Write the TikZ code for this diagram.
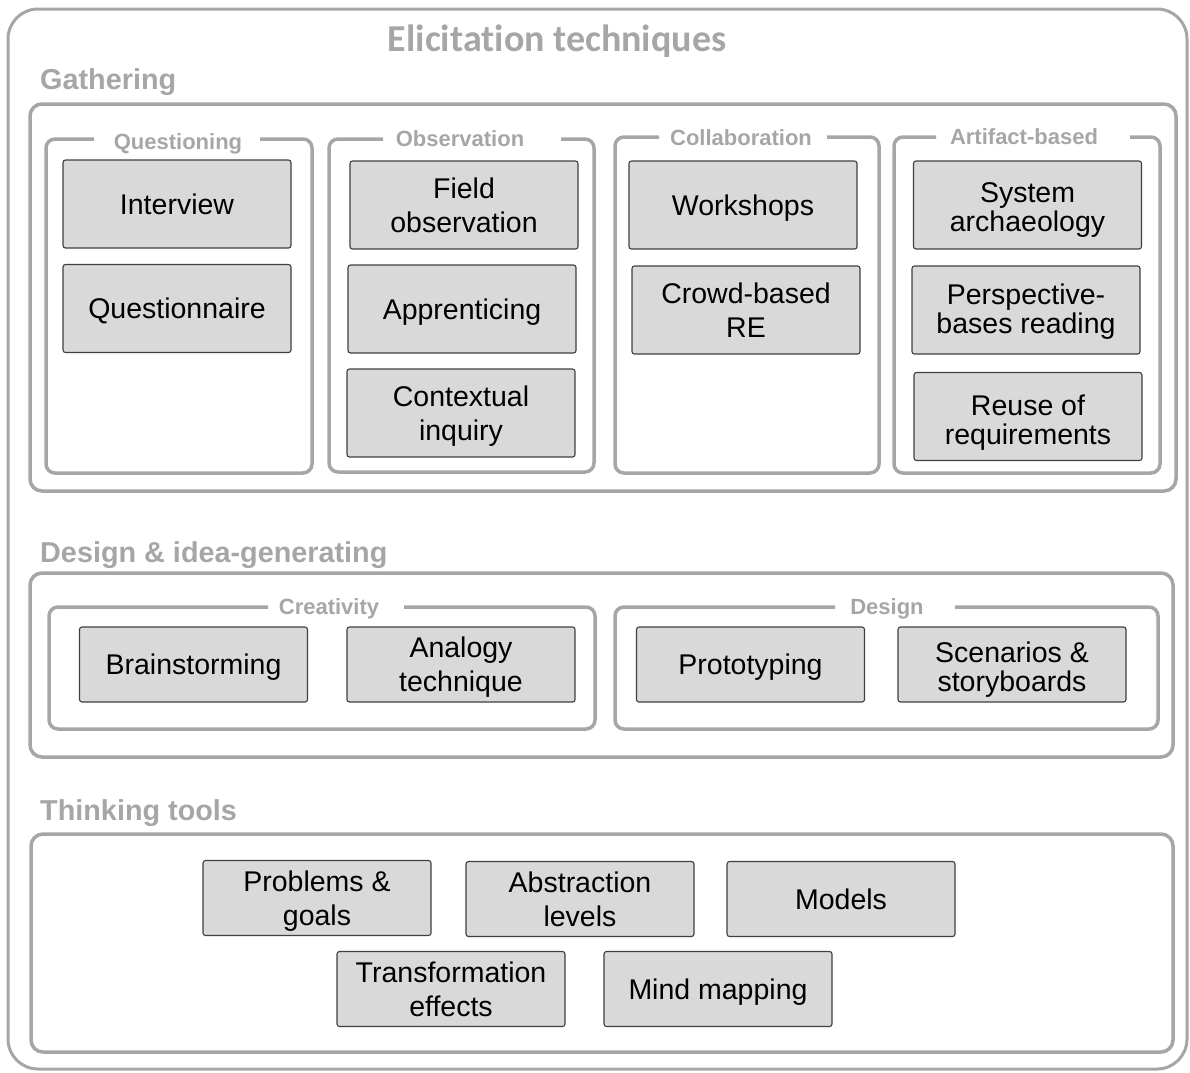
\documentclass[tikz,border=0pt]{standalone}
\usepackage{fontspec}
\setmainfont{Liberation Sans}
\newfontfamily\titlefont[Ligatures=NoCommon]{Carlito}
\definecolor{lgray}{HTML}{A6A6A6}
\definecolor{dgray}{HTML}{404040}
\definecolor{boxfill}{HTML}{D9D9D9}
\begin{document}
\begin{tikzpicture}[x=1pt,y=-1pt,
  frame/.style={draw=lgray, line width=3.5pt, rounded corners=12pt},
  grp/.style={draw=lgray, line width=3.5pt, rounded corners=9pt},
  tech/.style={draw=dgray, fill=boxfill, line width=1.1pt, rounded corners=2.5pt,
     align=center, inner sep=0pt, minimum width=228pt, minimum height=88pt,
     font=\fontsize{28.5}{34}\selectfont},
  single/.style={text height=20.4pt, text depth=0pt},
  short/.style={minimum height=75pt},
  tight/.style={font=\fontsize{28.5}{29}\selectfont},
  grplabel/.style={text=lgray, inner sep=0pt, text height=16pt, text depth=0pt, font=\bfseries\fontsize{22}{22}\selectfont},
  seclabel/.style={text=lgray, inner sep=0pt, anchor=west, text height=20.6pt, text depth=0pt, font=\bfseries\fontsize{28.8}{30}\selectfont},
]
\useasboundingbox (0,0) rectangle (1190,1072);
% outer frame
\draw[draw=lgray, line width=3pt, rounded corners=30pt] (8,9) rectangle (1187,1069);
\node[text=lgray, inner sep=0pt, text height=25pt, text depth=0pt, font=\titlefont\bfseries\fontsize{38}{40}\selectfont] (title) at (557,38.5) {Elicitation techniques};

% Gathering
\node[seclabel] (lgath) at (40,79) {Gathering};
\draw[frame] (30,104) rectangle (1176,491);
\draw[grp] (94,139) -- (46,139) -- (46,473) -- (312,473) -- (312,139) -- (260,139);
\node[grplabel] (lq) at (178,141) {Questioning};
\draw[grp] (383,139) -- (329,139) -- (329,472) -- (594,472) -- (594,139) -- (561,139);
\node[grplabel] (lo) at (460,138) {Observation};
\draw[grp] (659,137) -- (615,137) -- (615,473) -- (879,473) -- (879,137) -- (827,137);
\node[grplabel] (lc) at (741,137) {Collaboration};
\draw[grp] (936,137) -- (894,137) -- (894,473) -- (1160,473) -- (1160,137) -- (1130,137);
\node[grplabel] (la) at (1024,136) {Artifact-based};

\node[tech, single] (interview) at (177,204) {Interview};
\node[tech, single] (questionnaire) at (177,308.5) {Questionnaire};
\node[tech] (field) at (464,205) {Field\\observation};
\node[tech, single] (appr) at (462,309) {Apprenticing};
\node[tech, text depth=-1pt] (context) at (461,413) {Contextual\\inquiry};
\node[tech, single] (workshops) at (743,205) {Workshops};
\node[tech] (crowd) at (746,310) {Crowd-based\\RE};
\node[tech, tight, text depth=0pt, text height=53.4pt] (sysarch) at (1027.5,205) {System\\archaeology};
\node[tech, tight, text depth=2pt] (persp) at (1026,310) {Perspective-\\bases reading};
\node[tech, tight, text depth=0pt, text height=55.4pt] (reuse) at (1028,416.5) {Reuse of\\requirements};

% Design & idea-generating
\node[seclabel] (ldesign) at (40,552) {Design \& idea-generating};
\draw[frame] (30,573) rectangle (1173,757);
\draw[grp] (268,607) -- (49,607) -- (49,729) -- (595,729) -- (595,607) -- (404,607);
\node[grplabel] (lcr) at (329,606) {Creativity};
\draw[grp] (835,607) -- (615,607) -- (615,729) -- (1158,729) -- (1158,607) -- (955,607);
\node[grplabel] (lde) at (887,606) {Design};

\node[tech, short, single] (brain) at (193.5,664.5) {Brainstorming};
\node[tech, short, text depth=-2pt] (analogy) at (461,664.5) {Analogy\\technique};
\node[tech, short, single] (proto) at (750.5,664.5) {Prototyping};
\node[tech, short, tight, text depth=0pt, text height=54.4pt] (scen) at (1012,664.5) {Scenarios \&\\storyboards};

% Thinking tools
\node[seclabel] (lthink) at (40,810) {Thinking tools};
\draw[frame] (31,834) rectangle (1173,1052);
\node[tech, short, text depth=-2pt] (probl) at (317,898) {Problems \&\\goals};
\node[tech, short] (abstr) at (580,899) {Abstraction\\levels};
\node[tech, short, single] (models) at (841,899) {Models};
\node[tech, short] (transf) at (451,989) {Transformation\\effects};
\node[tech, short, single] (mind) at (718,989) {Mind mapping};
\end{tikzpicture}
\end{document}
